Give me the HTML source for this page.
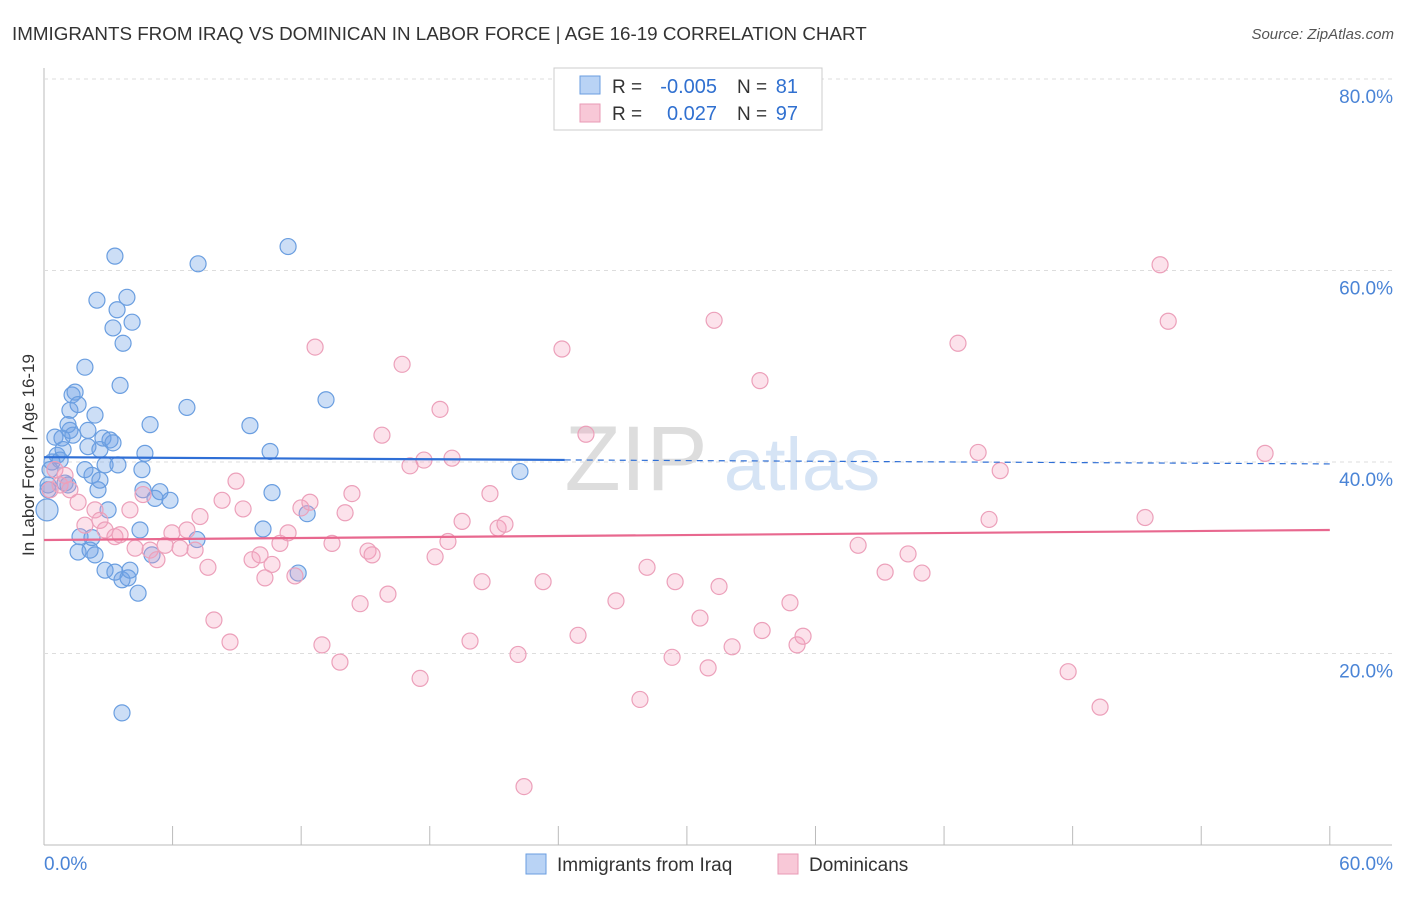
<!DOCTYPE html>
<html><head><meta charset="utf-8"><style>
body{margin:0;background:#fff;font-family:"Liberation Sans",sans-serif}
svg text{font-family:"Liberation Sans",sans-serif}
</style></head><body>
<svg id="chart" width="1406" height="892" xmlns="http://www.w3.org/2000/svg">
<text x="12" y="40" font-size="18.8" fill="#333">IMMIGRANTS FROM IRAQ VS DOMINICAN IN LABOR FORCE | AGE 16-19 CORRELATION CHART</text>
<text x="1394" y="39" font-size="15" fill="#555" font-style="italic" text-anchor="end">Source: ZipAtlas.com</text>
<text x="636" y="490" font-size="92" fill="#ddd" font-family="Liberation Serif" text-anchor="middle">ZIP</text>
<text x="802" y="490" font-size="74" fill="#d6e4f5" text-anchor="middle">atlas</text>
<text transform="translate(34,455) rotate(-90)" font-size="17" fill="#333" text-anchor="middle">In Labor Force | Age 16-19</text>
<g id="grid"></g><g id="pts"></g><g id="trend"></g>
<g>
<rect x="554" y="68" width="268" height="62" fill="#fff" stroke="#ccc"/>
<rect x="580" y="76" width="20" height="18" fill="#b9d3f5" stroke="#6a9ee0"/>
<rect x="580" y="104" width="20" height="18" fill="#f8c8d7" stroke="#e89ab5"/>
<text x="612" y="93" font-size="19" fill="#333">R =</text>
<text x="717" y="93" font-size="20" fill="#3070d0" text-anchor="end">-0.005</text>
<text x="737" y="93" font-size="19" fill="#333">N =</text>
<text x="798" y="93" font-size="20" fill="#3070d0" text-anchor="end">81</text>
<text x="612" y="120" font-size="19" fill="#333">R =</text>
<text x="717" y="120" font-size="20" fill="#3070d0" text-anchor="end">0.027</text>
<text x="737" y="120" font-size="19" fill="#333">N =</text>
<text x="798" y="120" font-size="20" fill="#3070d0" text-anchor="end">97</text>
</g>
<g>
<rect x="526" y="854" width="20" height="20" fill="#b9d3f5" stroke="#6a9ee0"/>
<text x="557" y="871" font-size="19" fill="#333">Immigrants from Iraq</text>
<rect x="778" y="854" width="20" height="20" fill="#f8c8d7" stroke="#e89ab5"/>
<text x="809" y="871" font-size="19" fill="#333">Dominicans</text>
</g>
</svg>
<script>
const yTicks=[20,40,60,80];
const yTickLabels=["20.0%","40.0%","60.0%","80.0%"];
const xTickLabels=["0.0%","60.0%"];
const iraqX=[0.14,0.19,0.19,0.28,0.37,0.51,0.61,0.75,0.84,0.89,0.98,1.12,1.21,1.31,1.45,1.21,1.12,1.35,1.59,1.91,2.05,2.05,1.91,2.24,2.38,2.47,2.52,2.61,2.61,2.75,2.85,2.99,3.08,3.22,3.22,3.31,3.41,3.45,3.55,3.69,3.87,4.11,2.85,2.38,2.15,1.59,1.68,2.24,3.31,3.64,3.92,4.01,4.39,4.48,4.57,4.62,4.71,4.95,5.04,5.18,5.41,5.88,6.67,7.14,7.19,9.61,10.22,10.55,10.64,11.39,11.86,12.28,13.16,22.21,3.64];
const iraqY=[35.0,37.1,37.6,39.2,40.0,42.6,40.7,40.2,42.5,41.3,37.8,37.6,45.4,47.0,47.3,43.3,43.9,42.8,46.0,49.9,43.3,41.6,39.2,38.6,44.9,56.9,37.1,38.1,41.3,42.5,39.7,35.0,42.3,42.0,54.0,61.5,55.9,39.7,48.0,52.4,57.2,54.6,28.7,30.3,30.8,30.6,32.2,32.1,28.5,27.7,27.9,28.7,26.3,32.9,39.2,37.1,40.9,43.9,30.3,36.2,36.9,36.0,45.7,31.9,60.7,43.8,33.0,41.1,36.8,62.5,28.4,34.6,46.5,39.0,13.8];
const domX=[0.28,0.51,0.75,0.98,1.21,1.59,1.91,2.38,2.61,2.85,3.31,3.55,4.01,4.25,4.62,4.95,5.27,5.65,5.97,6.35,6.67,7.05,7.28,7.65,7.93,8.31,8.68,8.96,9.29,9.71,10.08,10.31,10.64,11.01,11.39,11.71,11.99,12.41,12.65,12.97,13.44,13.81,14.05,14.37,14.75,15.12,15.31,16.05,15.77,16.71,17.08,17.55,17.73,18.25,18.48,18.85,19.04,19.51,19.88,20.44,20.81,21.19,21.51,22.12,22.4,23.29,24.17,24.92,25.29,26.69,27.81,28.14,29.31,29.45,30.61,30.99,31.27,31.5,32.11,33.51,33.41,34.81,35.14,35.42,37.99,39.25,40.32,40.97,42.65,43.59,44.1,44.62,47.79,49.28,51.38,52.08,52.46,56.98];
const domY=[37.1,39.2,37.6,38.6,37.1,35.8,33.4,35.0,33.9,32.9,32.2,32.4,35.0,31.0,36.6,30.8,29.8,31.3,32.6,31.0,32.9,30.8,34.3,29.0,23.5,36.0,21.2,38.0,35.1,29.8,30.3,27.9,29.3,31.5,32.6,28.1,35.2,35.8,52.0,20.9,31.5,19.1,34.7,36.7,25.2,30.7,30.3,26.2,42.8,50.2,39.6,17.4,40.2,30.1,45.5,31.7,40.4,33.8,21.3,27.5,36.7,33.1,33.5,19.9,6.1,27.5,51.8,21.9,42.9,25.5,15.2,29.0,19.6,27.5,23.7,18.5,54.8,27.0,20.7,22.4,48.5,25.3,20.9,21.8,31.3,28.5,30.4,28.4,52.4,41.0,34.0,39.1,18.1,14.4,34.2,60.6,54.7,40.9];
const iraqTrend=[40.5,39.8];
const domTrend=[31.85,32.9];
const NS="http://www.w3.org/2000/svg";
const X=v=>44+v*21.43, Y=v=>845-v*9.575;
function mk(tag,at,parent){const e=document.createElementNS(NS,tag);for(const k in at)e.setAttribute(k,at[k]);document.getElementById(parent).appendChild(e);return e;}
let ax=mk('line',{x1:44,y1:68,x2:44,y2:845,stroke:'#bbb'},'grid');


let bx=mk('line',{x1:44,y1:845,x2:1392,y2:845,stroke:'#bbb'},'grid');


for(let i=0;i<=10;i++){let t=mk('line',{x1:X(i*6),y1:826,x2:X(i*6),y2:845,stroke:'#bbb'},'grid');

}
yTicks.forEach((v,i)=>{let g=mk('line',{x1:44,y1:Y(v),x2:1392,y2:Y(v),stroke:'#ddd','stroke-dasharray':'4,4'},'grid');


let t=mk('text',{x:1393,y:Y(v)+24,'font-size':19,fill:'#4a84d6','text-anchor':'end'},'grid');t.textContent=yTickLabels[i];

});
xTickLabels.forEach((s,i)=>{let t=mk('text',{x:i?1393:44,y:870,'font-size':19,fill:'#4a84d6','text-anchor':i?'end':'start'},'grid');t.textContent=s;

});
iraqX.forEach((v,i)=>{let c=mk('circle',{cx:X(v),cy:Y(iraqY[i]),r:i==0?11:8,fill:'rgba(110,160,230,0.35)',stroke:'#6a9ee0','stroke-width':1.2},'pts');

});
domX.forEach((v,i)=>{let c=mk('circle',{cx:X(v),cy:Y(domY[i]),r:8,fill:'rgba(245,160,190,0.3)',stroke:'#eca0ba','stroke-width':1.2},'pts');

});
const ty=x=>iraqTrend[0]+(iraqTrend[1]-iraqTrend[0])*x/60;
let l1=mk('line',{x1:X(0),y1:Y(ty(0)),x2:X(24.3),y2:Y(ty(24.3)),stroke:'#2f6fd6','stroke-width':2.2},'trend');


let l2=mk('line',{x1:X(24.3),y1:Y(ty(24.3)),x2:X(60),y2:Y(ty(60)),stroke:'#2f6fd6','stroke-width':1.2,'stroke-dasharray':'6,5'},'trend');


let l3=mk('line',{x1:X(0),y1:Y(domTrend[0]),x2:X(60),y2:Y(domTrend[1]),stroke:'#e8688f','stroke-width':2.2},'trend');


</script>
</body></html>
